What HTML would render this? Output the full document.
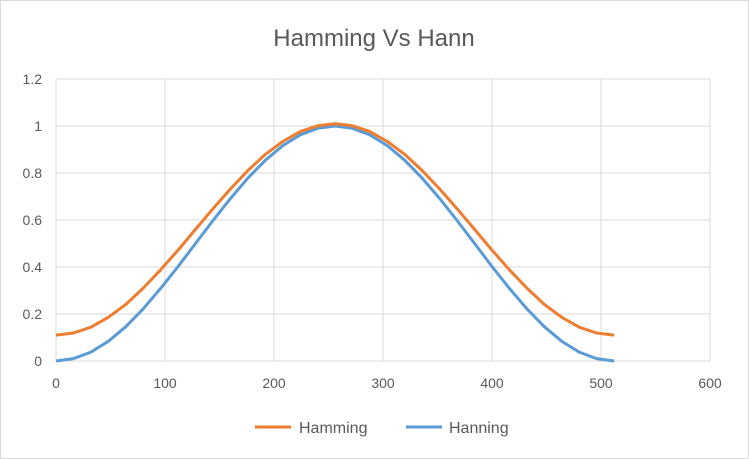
<!DOCTYPE html>
<html><head><meta charset="utf-8"><style>
body{margin:0;background:#fff;font-family:"Liberation Sans",sans-serif}
svg{display:block}
</style></head><body>
<svg id="c" width="749" height="459">
<rect x="0.5" y="0.5" width="748" height="458" fill="#fff" stroke="#d9d9d9"/>
<text x="374" y="46" text-anchor="middle" font-size="24" fill="#595959">Hamming Vs Hann</text>
<g id="grid"></g><g id="axes"></g><g id="series"></g>
<g>
<line x1="255" y1="427" x2="291" y2="427" stroke="#ED7D31" stroke-width="3"/>
<text x="299" y="433" font-size="16" fill="#595959">Hamming</text>
<line x1="406" y1="427" x2="442" y2="427" stroke="#5B9BD5" stroke-width="3"/>
<text x="449" y="433" font-size="16" fill="#595959">Hanning</text>
</g>
</svg>
<script>
const xValues=[0,16,32,48,64,80,96,112,128,144,160,176,192,208,224,240,256,272,288,304,320,336,352,368,384,400,416,432,448,464,480,496,512];
const hamming=[0.11,0.119,0.144,0.186,0.241,0.310,0.388,0.472,0.56,0.648,0.732,0.810,0.879,0.934,0.976,1.001,1.01,1.001,0.976,0.934,0.879,0.810,0.732,0.648,0.56,0.472,0.388,0.310,0.241,0.186,0.144,0.119,0.11];
const hanning=[0,0.010,0.038,0.084,0.146,0.222,0.309,0.402,0.5,0.598,0.691,0.778,0.854,0.916,0.962,0.990,1,0.990,0.962,0.916,0.854,0.778,0.691,0.598,0.5,0.402,0.309,0.222,0.146,0.084,0.038,0.010,0];
const xTicks=[0,100,200,300,400,500,600];
const yTicks=[0,0.2,0.4,0.6,0.8,1,1.2];
const yTickLabels=["0","0.2","0.4","0.6","0.8","1","1.2"];
const X0=56,X1=710,Y0=361,Y1=79;
const sx=v=>X0+(v-0)/600*(X1-X0);
const sy=v=>Y0-v/1.2*(Y0-Y1);
const NS="http://www.w3.org/2000/svg";
const grid=document.getElementById('grid'),axes=document.getElementById('axes'),ser=document.getElementById('series');
function mk(tag,attrs,parent){const e=document.createElementNS(NS,tag);for(const k in attrs)e.setAttribute(k,attrs[k]);parent.appendChild(e);return e;}
yTicks.forEach((t,i)=>{
 const l=mk('line',{x1:X0,x2:X1,y1:sy(t),y2:sy(t),stroke:'#d9d9d9','stroke-width':1},grid);
 
 
 const tx=mk('text',{x:X0-14,y:sy(t)+5,'text-anchor':'end','font-size':14,fill:'#595959'},axes);
 tx.textContent=yTickLabels[i];
 
 
});
xTicks.forEach(t=>{
 const l=mk('line',{x1:sx(t),x2:sx(t),y1:Y1,y2:Y0,stroke:'#d9d9d9','stroke-width':1},grid);
 
 
 const tx=mk('text',{x:sx(t),y:Y0+27,'text-anchor':'middle','font-size':14,fill:'#595959'},axes);
 tx.textContent=String(t);
 
 
});
function line(vals,color,name){
 const d=vals.map((v,i)=>(i?'L':'M')+sx(xValues[i]).toFixed(1)+','+sy(v).toFixed(1)).join(' ');
 const p=mk('path',{d:d,fill:'none',stroke:color,'stroke-width':3,'stroke-linejoin':'round'},ser);
 
 
}
line(hanning,'#5B9BD5','hanning-line');
line(hamming,'#ED7D31','hamming-line');
</script>
</body></html>
